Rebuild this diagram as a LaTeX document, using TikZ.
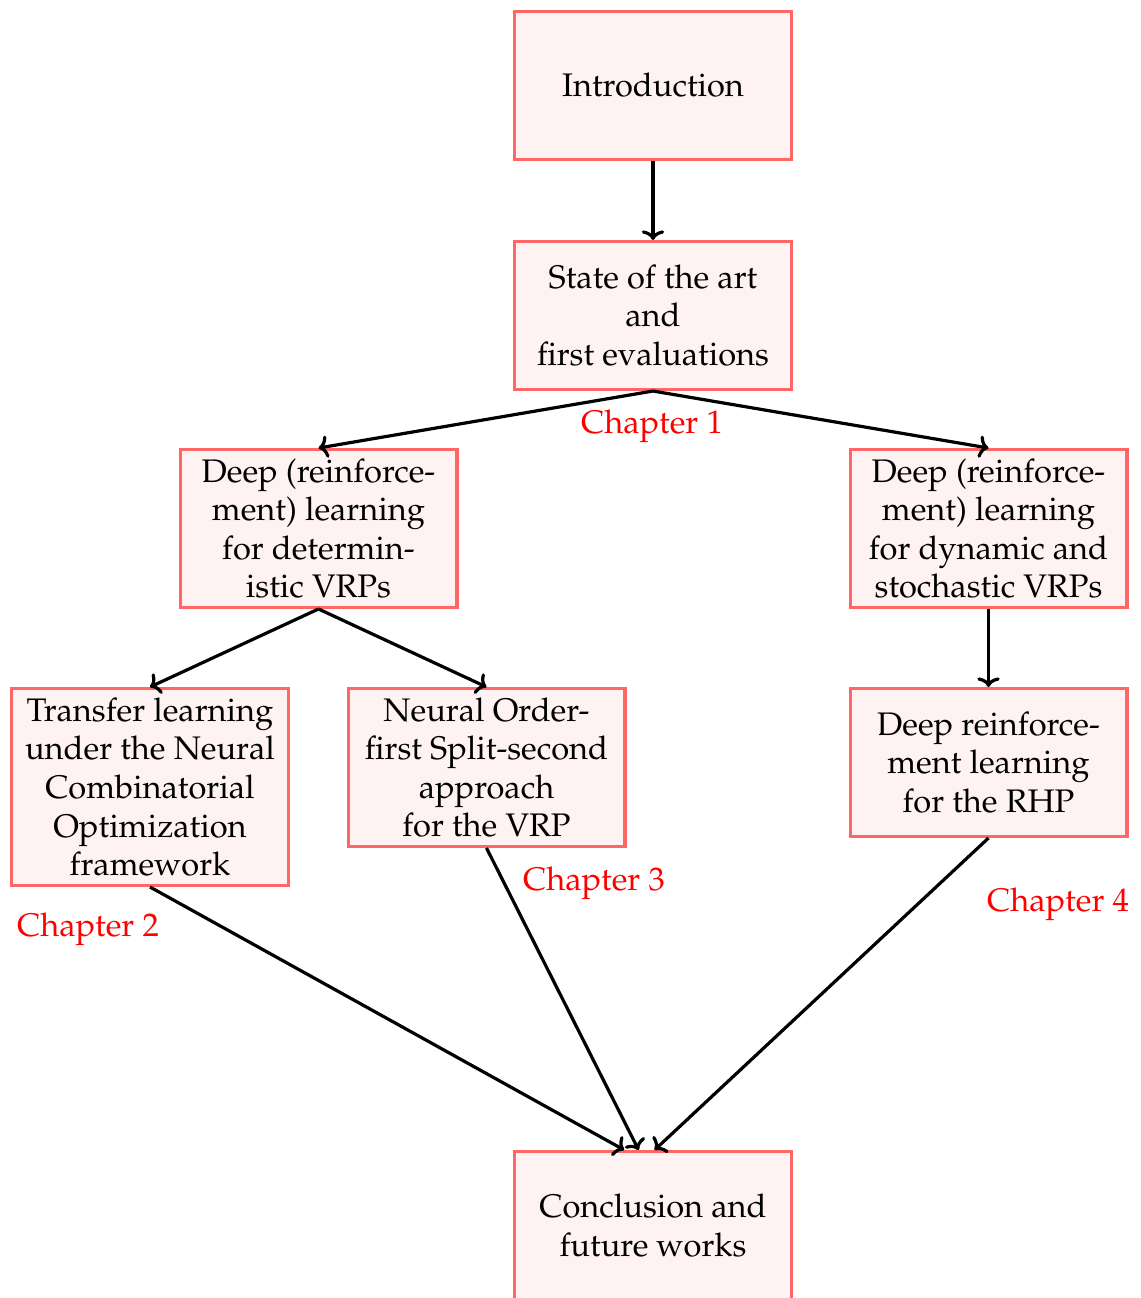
\documentclass[tikz,border=0pt]{standalone}
\usepackage[T1]{fontenc}
\usepackage{mathpazo}
\usetikzlibrary{arrows.meta}
\begin{document}
\begin{tikzpicture}[x=0.3125pt,y=-0.3125pt,
  every node/.append style={font=\fontsize{10.2pt}{12.05pt}\selectfont},
  chapbox/.style={draw=red!60, fill=red!5, line width=1pt, align=center,
    inner sep=0pt, minimum width=86.5pt},
  h151/.style={minimum height=46.2pt},
  h161/.style={minimum height=49.3pt},
  h200/.style={minimum height=61.5pt},
  flow/.style={-{To[width=7pt,length=3pt]}, line width=1pt},
  chaplabel/.style={text=red, inner sep=0pt}]
\useasboundingbox (0,0) rectangle (1140,1298);

\node[chapbox,h151] (intro) at (653,85.5) {Introduction};
\node[chapbox,h151] (sota) at (653,315.5) {State of the art\\and\\first evaluations};
\node[chapbox,h161] (det) at (318.5,528.5) {Deep (reinforce-\\ment) learning\\for determin-\\istic VRPs};
\node[chapbox,h161] (dyn) at (988.5,528.5) {Deep (reinforce-\\ment) learning\\for dynamic and\\stochastic VRPs};
\node[chapbox,h200] (transfer) at (150,787) {Transfer learning\\under the Neural\\Combinatorial\\Optimization\\framework};
\node[chapbox,h161] (nos) at (486.5,767.5) {Neural Order-\\first Split-second\\approach\\for the VRP};
\node[chapbox,h151] (rhp) at (988.5,762.5) {Deep reinforce-\\ment learning\\for the RHP};
\node[chapbox,h151] (concl) at (653,1225.5) {Conclusion and\\future works};

\node[chaplabel] (c1) at (652,426) {Chapter 1};
\node[chaplabel] (c2) at (88,929) {Chapter 2};
\node[chaplabel] (c3) at (594,883) {Chapter 3};
\node[chaplabel] (c4) at (1058,904) {Chapter 4};

\draw[flow] (intro.south) -- (sota.north);
\draw[flow] (sota.south) -- (det.north);
\draw[flow] (sota.south) -- (dyn.north);
\draw[flow] (det.south) -- (transfer.north);
\draw[flow] (det.south) -- (nos.north);
\draw[flow] (dyn.south) -- (rhp.north);
\draw[flow] (transfer.south) -- ([xshift=-9pt]concl.north);
\draw[flow] (nos.south) -- ([xshift=-4.5pt]concl.north);
\draw[flow] (rhp.south) -- ([xshift=0.5pt]concl.north);
\end{tikzpicture}
\end{document}
